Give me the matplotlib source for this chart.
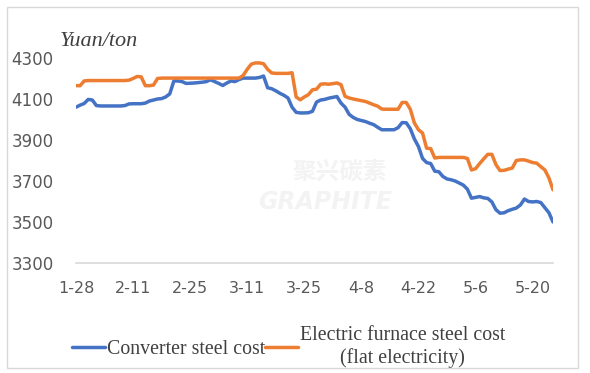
import matplotlib
matplotlib.use("Agg")
import matplotlib.pyplot as plt
from matplotlib.patches import Rectangle
import numpy as np
import datetime as dt

# ---- data ----
start_date = dt.date(2022, 1, 28)
n_days = 118
dates = [start_date + dt.timedelta(days=i) for i in range(n_days)]
date_labels = [f"{d.month}-{d.day}" for d in dates]

converter_cost = [
    4060, 4070, 4078, 4098, 4095, 4068, 4066, 4066, 4066, 4066,
    4066, 4066, 4068, 4076, 4077, 4077, 4077, 4080, 4090, 4095,
    4100, 4102, 4110, 4125, 4188, 4188, 4185, 4176, 4177, 4178,
    4180, 4182, 4185, 4194, 4185, 4176, 4166, 4178, 4188, 4185,
    4195, 4202, 4202, 4202, 4202, 4205, 4212, 4155, 4150, 4140,
    4128, 4118, 4105, 4060, 4035, 4032, 4032, 4033, 4040, 4085,
    4095, 4098, 4104, 4108, 4112, 4080, 4060, 4025, 4010, 4000,
    3995, 3990, 3982, 3975, 3962, 3950, 3950, 3950, 3950, 3960,
    3985, 3984, 3955, 3905, 3868, 3810, 3790, 3785, 3748, 3745,
    3722, 3710, 3706, 3700, 3690, 3680, 3660, 3616, 3620, 3624,
    3618, 3615, 3598, 3560, 3543, 3545, 3555, 3562, 3568, 3583,
    3612, 3600, 3598, 3600, 3595, 3570, 3545, 3500,
]

electric_cost = [
    4165, 4165, 4188, 4190, 4190, 4190, 4190, 4190, 4190, 4190,
    4190, 4190, 4190, 4192, 4200, 4210, 4208, 4165, 4165, 4168,
    4200, 4202, 4202, 4202, 4202, 4202, 4202, 4202, 4202, 4202,
    4202, 4202, 4202, 4202, 4202, 4202, 4202, 4202, 4202, 4202,
    4202, 4215, 4245, 4270, 4276, 4276, 4272, 4245, 4227, 4225,
    4225, 4225, 4225, 4228, 4110, 4096, 4110, 4121, 4145, 4148,
    4172, 4174, 4172, 4175, 4178, 4170, 4113, 4105, 4100, 4096,
    4092, 4088, 4080, 4072, 4065, 4051, 4050, 4050, 4050, 4050,
    4083, 4083, 4050, 3983, 3950, 3934, 3860, 3858, 3812, 3815,
    3815, 3815, 3815, 3815, 3815, 3815, 3810, 3754, 3760, 3785,
    3808, 3830, 3830, 3780, 3751, 3752, 3758, 3763, 3800, 3803,
    3803, 3797, 3790, 3787, 3770, 3754, 3715, 3657,
]

y_ticks = [3300, 3500, 3700, 3900, 4100, 4300]
tick_every = 14
series_names = ["Converter steel cost", "Electric furnace steel cost\n(flat electricity)"]
unit_label = "Yuan/ton"

# ---- figure ----
fig = plt.figure(figsize=(5.9, 3.73), dpi=100)
ax = fig.add_axes([76/590, 1 - 263/373, (553 - 76)/590, (263 - 58)/373])

x = np.arange(n_days)
ax.plot(x, converter_cost, color="#4472C4", lw=2.5, solid_joinstyle="round",
        solid_capstyle="round", label=series_names[0], zorder=3)
ax.plot(x, electric_cost, color="#ED7D31", lw=2.5, solid_joinstyle="round",
        solid_capstyle="round", label=series_names[1], zorder=3)

ax.set_xlim(0, n_days - 1)
ax.set_ylim(3300, 4300)
ax.set_yticks(y_ticks)
ax.set_yticklabels([str(v) for v in y_ticks])
xt = list(range(0, n_days, tick_every))
ax.set_xticks(xt)
ax.set_xticklabels([date_labels[i] for i in xt])
ax.tick_params(axis="both", length=0, labelsize=11.5, colors="#595959")
ax.tick_params(axis="y", labelsize=12, pad=16)
ax.tick_params(axis="x", pad=13)
for s in ax.spines.values():
    s.set_visible(False)
ax.axhline(3300, color="#d9d9d9", lw=1.2, zorder=1, clip_on=False)

fig.text(60/590, 1 - 41/373, unit_label, fontsize=16, family="Liberation Serif",
         style="italic", color="#404040", va="center", ha="left")

# watermark
fig.text(340/590, 1 - 172/373, "聚兴碳素", fontsize=17, color="#f3f3f3",
         family=["Noto Sans CJK SC", "DejaVu Sans"], ha="center", va="center",
         fontweight="bold", zorder=0)
fig.text(325/590, 1 - 202/373, "GRAPHITE", fontsize=17, color="#f3f3f3",
         family="DejaVu Sans", ha="center", va="center", fontweight="bold",
         style="italic", zorder=0)

leg = ax.legend(loc="center", bbox_to_anchor=(0.5 * (70 + 507) / 590, 1 - 347/373),
                bbox_transform=fig.transFigure, ncol=2, frameon=False,
                handlelength=1.65, handletextpad=0.1, columnspacing=0.0,
                prop={"family": "Liberation Serif", "size": 14.3})
for t in leg.get_texts():
    t.set_color("#404040")
    t.set_multialignment("center")

fig.patches.append(Rectangle((7/590, 1 - 368/373), (578 - 7)/590, (368 - 7)/373,
                             transform=fig.transFigure, fill=False,
                             edgecolor="#d9d9d9", lw=1.0))

fig.savefig("out.png", dpi=100)
